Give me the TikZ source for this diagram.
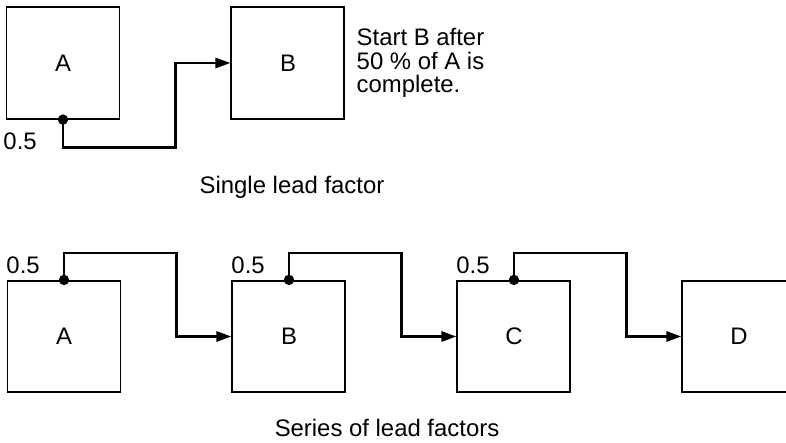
\documentclass[tikz,border=0pt]{standalone}
\usepackage{fontspec}
\setmainfont{Liberation Sans}
\usetikzlibrary{arrows.meta, positioning}

\begin{document}
\begin{tikzpicture}[
  font=\fontsize{17}{16.8}\selectfont,
  node distance=0.5cm and 2.75cm,
  activite/.style={
    draw=black,
    line width=1.4pt,
    minimum width=2.825cm,
    minimum height=2.78cm,
    inner sep=0pt
  },
  liaison/.style={
    -{Triangle[length=3.75mm, width=2.5mm]},
    line width=2pt,
    draw=black
  },
  jalon/.style={
    circle,
    fill=black,
    inner sep=0pt,
    minimum size=2.6mm
  },
  facteur/.style={
    anchor=east,
    inner sep=0pt
  }
]
  \useasboundingbox (0,0) rectangle (19.65,-11.05);

  % Facteur d'avance simple
  \node[activite] (a1) at (1.575,-1.575) {A};
  \node[activite, right=of a1] (b1) {B};
  \node[right=0.275cm of b1, align=left, inner sep=0pt] (note) {Start B after\\50 \% of A is\\complete.};
  \draw[liaison] (a1.south) -- ++(0,-0.7) -| ([xshift=-1.375cm]b1.west) -- (b1.west);
  \node[jalon] (j1) at (a1.south) {};
  \node[facteur] (f1) at ([xshift=-0.65cm, yshift=-0.55cm]a1.south) {0.5};
  \node (titre1) at (7.3,-4.675) {Single lead factor};

  % Serie de facteurs d'avance
  \node[activite] (a2) at (1.6,-8.4125) {A};
  \node[activite, right=of a2] (b2) {B};
  \node[activite, right=of b2] (c2) {C};
  \node[activite, right=of c2] (d2) {D};
  \foreach \de/\vers in {a2/b2, b2/c2, c2/d2} {
    \draw[liaison] (\de.north) -- ++(0,0.675) -| ([xshift=-1.375cm]\vers.west) -- (\vers.west);
    \node[jalon] (j\de) at (\de.north) {};
    \node[facteur] (f\de) at ([xshift=-0.6cm, yshift=0.375cm]\de.north) {0.5};
  }
  \node (titre2) at (9.675,-10.7) {Series of lead factors};
\end{tikzpicture}
\end{document}
